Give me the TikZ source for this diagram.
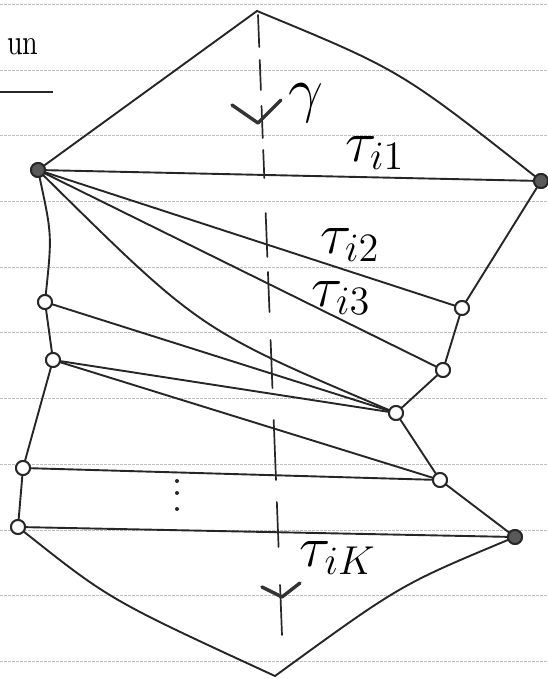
\documentclass[tikz,border=0pt]{standalone}
\begin{document}
\begin{tikzpicture}[x=1pt,y=-1pt,
  edge/.style={line width=1.9pt, draw=black!85, line cap=round},
  vtx/.style={circle, draw=black!85, line width=1.9pt, minimum size=14pt, inner sep=0pt, fill=white},
  vtxd/.style={vtx, fill=black!65},
  rule/.style={draw=black!25, line width=0.8pt, dash pattern=on 3pt off 1pt},
  axisdash/.style={line width=1.7pt, draw=black!85, line cap=round},
  arrowv/.style={line width=3.4pt, draw=black!80, line cap=round, line join=round},
  lab/.style={font=\fontsize{20.74}{22}\selectfont, inner sep=0pt}
]
\useasboundingbox (0,0) rectangle (547,679);
\fill[white] (0,0) rectangle (547,679);
% notebook ruling
\foreach \y in {4,70,135,201,267,332,398,464,530,595,661}
  \draw[rule] (0,\y) -- (547,\y);

% vertices
\coordinate (top) at (257,11);
\coordinate (bot) at (275,676);
\node[vtxd] (a) at (38,170) {};
\node[vtxd] (b) at (541,181) {};
\node[vtx] (r2) at (462,308) {};
\node[vtx] (r3) at (443,370) {};
\node[vtx] (r4) at (396,413) {};
\node[vtx] (r5) at (440,480) {};
\node[vtxd] (r6) at (515,537) {};
\node[vtx] (l2) at (45,302) {};
\node[vtx] (l3) at (53,360) {};
\node[vtx] (l4) at (23,468) {};
\node[vtx] (l5) at (18,527) {};

% outline
\draw[edge] (top) -- (a);
\draw[edge] (top) .. controls (400,70) .. (b);
\draw[edge] (a) .. controls (52,235) .. (l2);
\draw[edge] (l2) -- (l3);
\draw[edge] (l3) -- (l4);
\draw[edge] (l4) -- (l5);
\draw[edge] (l5) .. controls (110,600) .. (bot);
\draw[edge] (b) -- (r2);
\draw[edge] (r2) -- (r3);
\draw[edge] (r3) -- (r4);
\draw[edge] (r4) -- (r5);
\draw[edge] (r5) -- (r6);
\draw[edge] (r6) .. controls (400,585) .. (bot);

% chords
\draw[edge] (a) -- (b);
\draw[edge] (a) -- (r2);
\draw[edge] (a) -- (r3);
\draw[edge] (a) .. controls (200,330) .. (r4);
\draw[edge] (l2) -- (r4);
\draw[edge] (l3) -- (r4);
\draw[edge] (l3) -- (r5);
\draw[edge] (l4) -- (r5);
\draw[edge] (l5) -- (r6);

% redraw vertices on top
\foreach \n/\s in {a/vtxd,b/vtxd,r2/vtx,r3/vtx,r4/vtx,r5/vtx,r6/vtxd,l2/vtx,l3/vtx,l4/vtx,l5/vtx}
  \node[\s] at (\n) {};

% dashed axis
\foreach \ya/\yb in {15/47,60/90,106/138,150/178,213/257,272/312,340/388,420/480,502/547,585/635}
  \draw[axisdash] ({258+0.0387*(\ya-15)},\ya) -- ({258+0.0387*(\yb-15)},\yb);
\draw[arrowv] (232,105) -- (258,123) -- (281,100);
\draw[arrowv] (262,587) -- (282,597) -- (300,583);

% labels
\node[lab] (g) at (306,103) {\scalebox{3.0}{$\gamma$}};
\node[lab] (t1) at (375,153) {\scalebox{2.8}{$\tau_{i1}$}};
\node[lab] (t2) at (350,245) {\scalebox{2.8}{$\tau_{i2}$}};
\node[lab] (t3) at (341,298) {\scalebox{2.8}{$\tau_{i3}$}};
\node[lab] (tk) at (338,558) {\scalebox{2.8}{$\tau_{iK}$}};
\node[font=\fontsize{10}{12}\selectfont, inner sep=0pt] (un) at (23,47) {\scalebox{2.8}[3.6]{un}};
\draw[line width=1.9pt, draw=black!85] (0,92) -- (53,92);

% vertical dots
\foreach \yy in {481,493,509}
  \fill[black!85] (177,\yy) circle (2);
\end{tikzpicture}
\end{document}
